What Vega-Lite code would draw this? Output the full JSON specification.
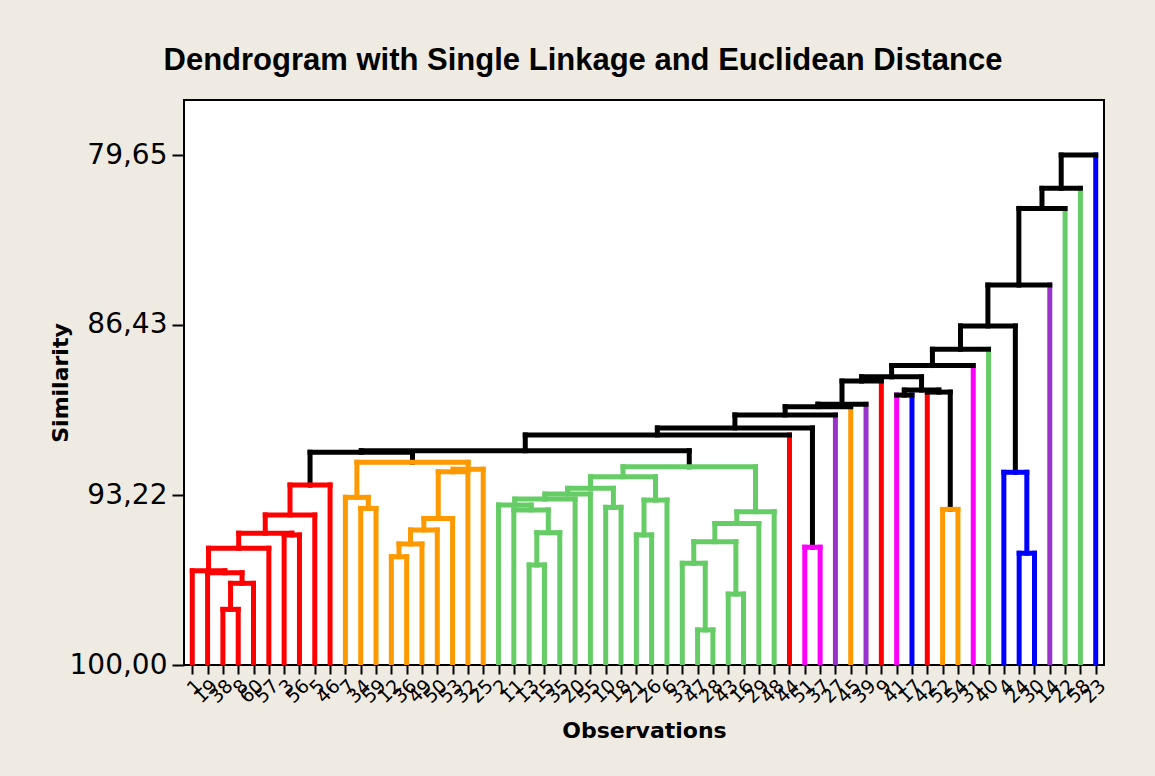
{
  "$schema": "https://vega.github.io/schema/vega-lite/v6.json",
  "width": 920,
  "height": 565,
  "autosize": {"type": "none"},
  "padding": {"left": 184, "top": 100, "right": 51, "bottom": 111},
  "background": "#EFEBE2",
  "title": {"text": "Dendrogram with Single Linkage and Euclidean Distance", "font": "Liberation Sans", "fontSize": 31, "fontWeight": "bold", "color": "black", "anchor": "middle", "dx": -61, "offset": 23},
  "config": {
    "view": {"fill": "white", "stroke": "black", "strokeWidth": 2},
    "axis": {"labelOverlap": false, "labelBound": false, "labelFlush": false, "domain": false, "grid": false, "tickColor": "black", "tickWidth": 2, "labelColor": "black", "labelFont": "DejaVu Sans", "titleFont": "DejaVu Sans", "titleFontSize": 22, "titleFontWeight": "bold", "titleColor": "black", "titleBaseline": "middle"},
    "axisX": {"labelAngle": -45, "labelFontSize": 19, "labelPadding": 2, "tickSize": 9, "titleY": 65},
    "axisY": {"labelFontSize": 28, "labelPadding": 5, "tickSize": 12, "titleX": -124, "titleY": 282.5}
  },
  "data": {"values": [
    {"l": 3, "lh": 100, "r": 4, "rh": 100, "h": 97.78, "c": "R", "cl": "R", "cr": "R"},
    {"l": 3.5, "lh": 97.78, "r": 5, "rh": 100, "h": 96.74, "c": "R", "cl": "R", "cr": "R"},
    {"l": 2, "lh": 100, "r": 4.25, "rh": 96.74, "h": 96.32, "c": "R", "cl": "R", "cr": "R"},
    {"l": 1, "lh": 100, "r": 3.125, "rh": 96.32, "h": 96.24, "c": "R", "cl": "R", "cr": "R"},
    {"l": 2.0625, "lh": 96.24, "r": 6, "rh": 100, "h": 95.34, "c": "R", "cl": "R", "cr": "R"},
    {"l": 7, "lh": 100, "r": 8, "rh": 100, "h": 94.81, "c": "R", "cl": "R", "cr": "R"},
    {"l": 4.03125, "lh": 95.34, "r": 7.5, "rh": 94.81, "h": 94.74, "c": "R", "cl": "R", "cr": "R"},
    {"l": 5.765625, "lh": 94.74, "r": 9, "rh": 100, "h": 94.01, "c": "R", "cl": "R", "cr": "R"},
    {"l": 7.3828, "lh": 94.01, "r": 10, "rh": 100, "h": 92.82, "c": "R", "cl": "R", "cr": "R"},
    {"l": 12, "lh": 100, "r": 13, "rh": 100, "h": 93.75, "c": "O", "cl": "O", "cr": "O"},
    {"l": 11, "lh": 100, "r": 12.5, "rh": 93.75, "h": 93.31, "c": "O", "cl": "O", "cr": "O"},
    {"l": 14, "lh": 100, "r": 15, "rh": 100, "h": 95.68, "c": "O", "cl": "O", "cr": "O"},
    {"l": 14.5, "lh": 95.68, "r": 16, "rh": 100, "h": 95.17, "c": "O", "cl": "O", "cr": "O"},
    {"l": 15.25, "lh": 95.17, "r": 17, "rh": 100, "h": 94.61, "c": "O", "cl": "O", "cr": "O"},
    {"l": 16.125, "lh": 94.61, "r": 18, "rh": 100, "h": 94.15, "c": "O", "cl": "O", "cr": "O"},
    {"l": 17.0625, "lh": 94.15, "r": 19, "rh": 100, "h": 92.29, "c": "O", "cl": "O", "cr": "O"},
    {"l": 18.03125, "lh": 92.29, "r": 20, "rh": 100, "h": 92.19, "c": "O", "cl": "O", "cr": "O"},
    {"l": 11.75, "lh": 93.31, "r": 19.015625, "rh": 92.19, "h": 91.91, "c": "O", "cl": "O", "cr": "O"},
    {"l": 8.6914, "lh": 92.82, "r": 15.3828, "rh": 91.91, "h": 91.51, "c": "K", "cl": "K", "cr": "K"},
    {"l": 23, "lh": 100, "r": 24, "rh": 100, "h": 96.01, "c": "G", "cl": "G", "cr": "G"},
    {"l": 23.5, "lh": 96.01, "r": 25, "rh": 100, "h": 94.72, "c": "G", "cl": "G", "cr": "G"},
    {"l": 22, "lh": 100, "r": 24.25, "rh": 94.72, "h": 93.81, "c": "G", "cl": "G", "cr": "G"},
    {"l": 21, "lh": 100, "r": 23.125, "rh": 93.81, "h": 93.62, "c": "G", "cl": "G", "cr": "G"},
    {"l": 22.0625, "lh": 93.62, "r": 26, "rh": 100, "h": 93.38, "c": "G", "cl": "G", "cr": "G"},
    {"l": 24.03125, "lh": 93.38, "r": 27, "rh": 100, "h": 93.18, "c": "G", "cl": "G", "cr": "G"},
    {"l": 28, "lh": 100, "r": 29, "rh": 100, "h": 93.71, "c": "G", "cl": "G", "cr": "G"},
    {"l": 25.515625, "lh": 93.18, "r": 28.5, "rh": 93.71, "h": 92.95, "c": "G", "cl": "G", "cr": "G"},
    {"l": 30, "lh": 100, "r": 31, "rh": 100, "h": 94.81, "c": "G", "cl": "G", "cr": "G"},
    {"l": 30.5, "lh": 94.81, "r": 32, "rh": 100, "h": 93.42, "c": "G", "cl": "G", "cr": "G"},
    {"l": 27.0078, "lh": 92.95, "r": 31.25, "rh": 93.42, "h": 92.49, "c": "G", "cl": "G", "cr": "G"},
    {"l": 34, "lh": 100, "r": 35, "rh": 100, "h": 98.6, "c": "G", "cl": "G", "cr": "G"},
    {"l": 33, "lh": 100, "r": 34.5, "rh": 98.6, "h": 95.94, "c": "G", "cl": "G", "cr": "G"},
    {"l": 36, "lh": 100, "r": 37, "rh": 100, "h": 97.17, "c": "G", "cl": "G", "cr": "G"},
    {"l": 33.75, "lh": 95.94, "r": 36.5, "rh": 97.17, "h": 95.08, "c": "G", "cl": "G", "cr": "G"},
    {"l": 35.125, "lh": 95.08, "r": 38, "rh": 100, "h": 94.35, "c": "G", "cl": "G", "cr": "G"},
    {"l": 36.5625, "lh": 94.35, "r": 39, "rh": 100, "h": 93.88, "c": "G", "cl": "G", "cr": "G"},
    {"l": 29.129, "lh": 92.49, "r": 37.781, "rh": 93.88, "h": 92.09, "c": "G", "cl": "G", "cr": "G"},
    {"l": 12.037, "lh": 91.51, "r": 33.455, "rh": 92.09, "h": 91.45, "c": "K", "cl": "K", "cr": "K"},
    {"l": 22.746, "lh": 91.45, "r": 40, "rh": 100, "h": 90.82, "c": "K", "cl": "K", "cr": "R"},
    {"l": 41, "lh": 100, "r": 42, "rh": 100, "h": 95.3, "c": "M", "cl": "M", "cr": "M"},
    {"l": 31.373, "lh": 90.82, "r": 41.5, "rh": 95.3, "h": 90.54, "c": "K", "cl": "K", "cr": "K"},
    {"l": 36.437, "lh": 90.54, "r": 43, "rh": 100, "h": 90.02, "c": "K", "cl": "K", "cr": "P"},
    {"l": 39.718, "lh": 90.02, "r": 44, "rh": 100, "h": 89.69, "c": "K", "cl": "K", "cr": "O"},
    {"l": 41.859, "lh": 89.69, "r": 45, "rh": 100, "h": 89.59, "c": "K", "cl": "K", "cr": "P"},
    {"l": 43.43, "lh": 89.59, "r": 46, "rh": 100, "h": 88.67, "c": "K", "cl": "K", "cr": "R"},
    {"l": 47, "lh": 100, "r": 48, "rh": 100, "h": 89.23, "c": "K", "cl": "M", "cr": "B"},
    {"l": 50, "lh": 100, "r": 51, "rh": 100, "h": 93.79, "c": "O", "cl": "O", "cr": "O"},
    {"l": 49, "lh": 100, "r": 50.5, "rh": 93.79, "h": 89.11, "c": "K", "cl": "R", "cr": "K"},
    {"l": 47.5, "lh": 89.23, "r": 49.75, "rh": 89.11, "h": 89.03, "c": "K", "cl": "K", "cr": "K"},
    {"l": 44.715, "lh": 88.67, "r": 48.625, "rh": 89.03, "h": 88.5, "c": "K", "cl": "K", "cr": "K"},
    {"l": 46.67, "lh": 88.5, "r": 52, "rh": 100, "h": 88.05, "c": "K", "cl": "K", "cr": "M"},
    {"l": 49.335, "lh": 88.05, "r": 53, "rh": 100, "h": 87.4, "c": "K", "cl": "K", "cr": "G"},
    {"l": 55, "lh": 100, "r": 56, "rh": 100, "h": 95.54, "c": "B", "cl": "B", "cr": "B"},
    {"l": 54, "lh": 100, "r": 55.5, "rh": 95.54, "h": 92.31, "c": "B", "cl": "B", "cr": "B"},
    {"l": 51.168, "lh": 87.4, "r": 54.75, "rh": 92.31, "h": 86.47, "c": "K", "cl": "K", "cr": "K"},
    {"l": 52.959, "lh": 86.47, "r": 57, "rh": 100, "h": 84.84, "c": "K", "cl": "K", "cr": "P"},
    {"l": 54.98, "lh": 84.84, "r": 58, "rh": 100, "h": 81.78, "c": "K", "cl": "K", "cr": "G"},
    {"l": 56.49, "lh": 81.78, "r": 59, "rh": 100, "h": 80.98, "c": "K", "cl": "K", "cr": "G"},
    {"l": 57.745, "lh": 80.98, "r": 60, "rh": 100, "h": 79.65, "c": "K", "cl": "K", "cr": "B"}
  ]},
  "layer": [
    {
      "mark": {"type": "rule", "strokeWidth": 5, "strokeCap": "square", "clip": true},
      "encoding": {
        "x": {"field": "l", "type": "quantitative", "scale": {"domain": [0.46, 60.54], "nice": false, "zero": false},
          "axis": {"title": "Observations", "values": [1,2,3,4,5,6,7,8,9,10,11,12,13,14,15,16,17,18,19,20,21,22,23,24,25,26,27,28,29,30,31,32,33,34,35,36,37,38,39,40,41,42,43,44,45,46,47,48,49,50,51,52,53,54,55,56,57,58,59,60],
            "labelExpr": "['1','19','38','8','60','57','3','56','5','46','7','34','59','12','36','49','50','53','32','25','2','11','13','15','35','20','55','10','18','21','26','6','33','47','28','43','16','29','48','44','51','37','27','45','39','9','41','17','42','52','54','31','40','4','24','30','14','22','58','23'][datum.value - 1]"}},
        "y": {"field": "lh", "type": "quantitative", "scale": {"domain": [77.454, 100], "reverse": true, "nice": false, "zero": false},
          "axis": {"title": "Similarity", "values": [79.65, 86.43, 93.22, 100], "labelExpr": "replace(format(datum.value, '.2f'), '.', ',')"}},
        "y2": {"field": "h"},
        "color": {"field": "cl", "type": "nominal", "scale": {"domain": ["R", "O", "G", "M", "P", "B", "K"], "range": ["#FF0000", "#FF9900", "#66CC66", "#FF00FF", "#9933CC", "#0000FF", "#000000"]}, "legend": null}
      }
    },
    {
      "mark": {"type": "rule", "strokeWidth": 5, "strokeCap": "square", "clip": true},
      "encoding": {
        "x": {"field": "r", "type": "quantitative",
          "axis": {"title": "Observations", "values": [1,2,3,4,5,6,7,8,9,10,11,12,13,14,15,16,17,18,19,20,21,22,23,24,25,26,27,28,29,30,31,32,33,34,35,36,37,38,39,40,41,42,43,44,45,46,47,48,49,50,51,52,53,54,55,56,57,58,59,60],
            "labelExpr": "['1','19','38','8','60','57','3','56','5','46','7','34','59','12','36','49','50','53','32','25','2','11','13','15','35','20','55','10','18','21','26','6','33','47','28','43','16','29','48','44','51','37','27','45','39','9','41','17','42','52','54','31','40','4','24','30','14','22','58','23'][datum.value - 1]"}},
        "y": {"field": "rh", "type": "quantitative",
          "axis": {"title": "Similarity", "values": [79.65, 86.43, 93.22, 100], "labelExpr": "replace(format(datum.value, '.2f'), '.', ',')"}},
        "y2": {"field": "h"},
        "color": {"field": "cr", "type": "nominal", "legend": null}
      }
    },
    {
      "mark": {"type": "rule", "strokeWidth": 5, "strokeCap": "square", "clip": true},
      "encoding": {
        "x": {"field": "l", "type": "quantitative",
          "axis": {"title": "Observations", "values": [1,2,3,4,5,6,7,8,9,10,11,12,13,14,15,16,17,18,19,20,21,22,23,24,25,26,27,28,29,30,31,32,33,34,35,36,37,38,39,40,41,42,43,44,45,46,47,48,49,50,51,52,53,54,55,56,57,58,59,60],
            "labelExpr": "['1','19','38','8','60','57','3','56','5','46','7','34','59','12','36','49','50','53','32','25','2','11','13','15','35','20','55','10','18','21','26','6','33','47','28','43','16','29','48','44','51','37','27','45','39','9','41','17','42','52','54','31','40','4','24','30','14','22','58','23'][datum.value - 1]"}},
        "x2": {"field": "r"},
        "y": {"field": "h", "type": "quantitative",
          "axis": {"title": "Similarity", "values": [79.65, 86.43, 93.22, 100], "labelExpr": "replace(format(datum.value, '.2f'), '.', ',')"}},
        "color": {"field": "c", "type": "nominal", "legend": null}
      }
    }
  ]
}
